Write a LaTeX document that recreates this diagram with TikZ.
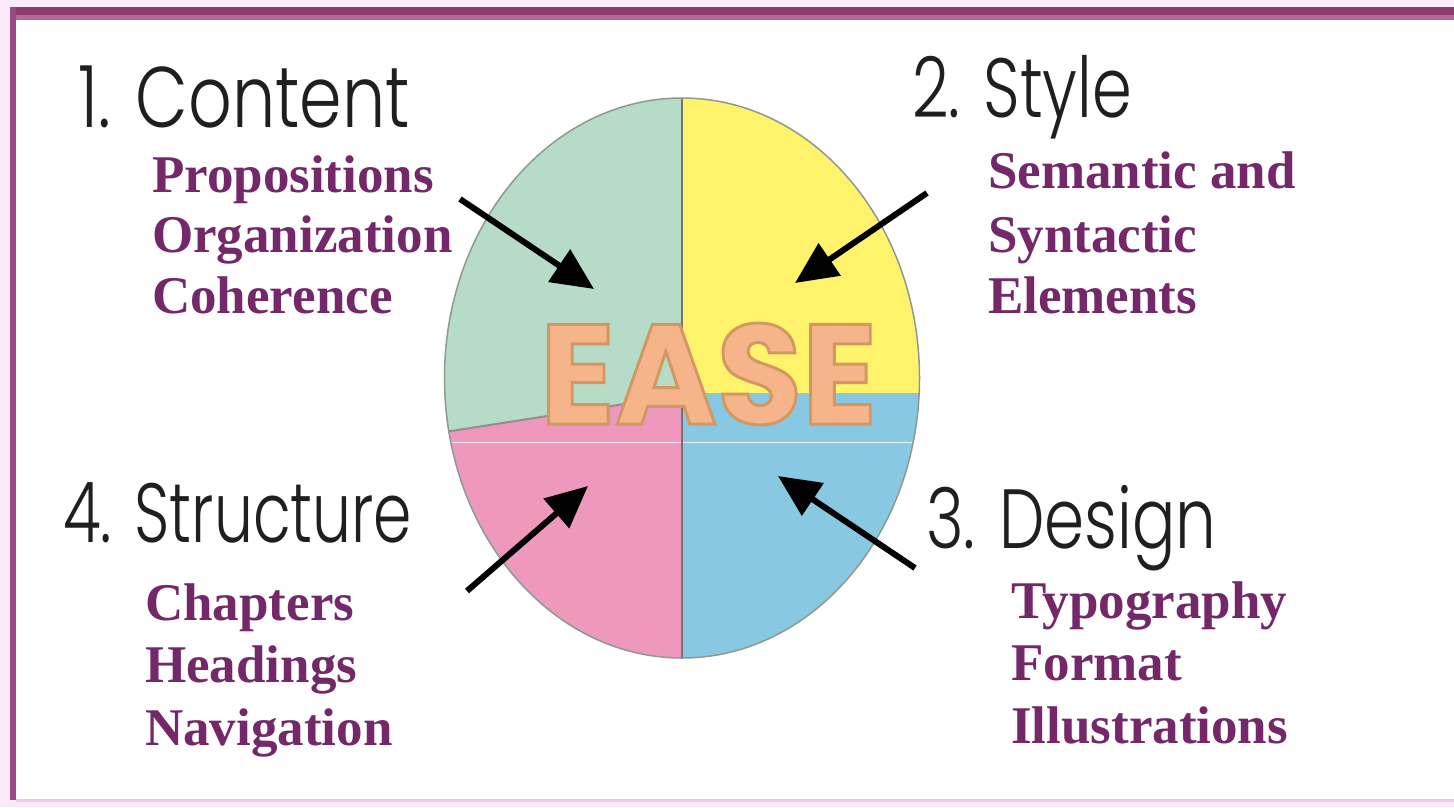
\documentclass[tikz,border=0pt]{standalone}
\usepackage{fontspec}
\usetikzlibrary{arrows.meta}
\newfontfamily\titlefont{Poppins Light}
\newfontfamily\subfont{Liberation Serif}
\newfontfamily\easefont{Poppins}
\definecolor{outerpink}{HTML}{FCEAF8}
\definecolor{framedark}{HTML}{8E3A6C}
\definecolor{framelight}{HTML}{B06A95}
\definecolor{frameleft}{HTML}{9C4A85}
\definecolor{bottompink}{HTML}{F6C6EE}
\definecolor{qgreen}{HTML}{B6DCC8}
\definecolor{qyellow}{HTML}{FFF36C}
\definecolor{qpink}{HTML}{EE98BE}
\definecolor{qblue}{HTML}{88C8E2}
\definecolor{rimgray}{HTML}{8C9A90}
\definecolor{divgray}{HTML}{7A7070}
\definecolor{subpurple}{HTML}{74286A}
\definecolor{easefill}{HTML}{F6B48A}
\newcommand{\easeword}{\special{pdf:literal direct 2 Tr 3 w 0.82 0.60 0.38 RG}\resizebox{337pt}{101pt}{\easefont\bfseries\fontsize{143}{143}\selectfont EASE}\special{pdf:literal direct 0 Tr}}
\tikzset{
  titletext/.style={anchor=base west, inner sep=0pt, text depth=0pt, text=black!88, font=\titlefont\fontsize{84}{84}\selectfont},
  subtext/.style={anchor=base west, inner sep=0pt, text=subpurple, font=\subfont\bfseries\fontsize{53}{53}\selectfont},
  easetext/.style={anchor=base, inner sep=0pt, text=easefill},
  arr/.style={line width=6pt, black, -{Triangle[length=42pt,width=38pt]}}
}
\begin{document}
\begin{tikzpicture}[x=1pt,y=-1pt]
\useasboundingbox (0,0) rectangle (1454,807);
% frame
\fill[outerpink] (0,0) rectangle (1454,807);
\fill[white] (16,20) rectangle (1454,799);
\fill[framedark] (10,7) rectangle (1454,15);
\fill[framelight] (10,15) rectangle (1454,20);
\fill[frameleft] (10,7) rectangle (16,800);
\fill[bottompink] (16,799) rectangle (1454,802);
% ellipse quadrants
\begin{scope}
  \clip (682,378) ellipse [x radius=237.5, y radius=280];
  \fill[qgreen] (682,0) -- (682,395) -- (400,439) -- (400,0) -- cycle;
  \fill[qyellow] (682,0) -- (1000,0) -- (1000,393) -- (682,393) -- cycle;
  \fill[qblue] (682,393) -- (1000,393) -- (1000,700) -- (682,700) -- cycle;
  \fill[qpink] (682,395) -- (400,439) -- (400,700) -- (682,700) -- cycle;
  \draw[white, line width=1pt, opacity=0.8] (400,442) -- (1000,442);
  \draw[divgray!80, line width=2pt] (682,395) -- (400,439);
\end{scope}
\draw[divgray, line width=2.5pt] (682,98) -- (682,658);
\draw[rimgray, line width=1.5pt] (682,378) ellipse [x radius=237.5, y radius=280];
% EASE
\node[easetext] (ease) at (708.5,424) {\easeword};
% titles
\node[titletext, font=\titlefont\fontsize{86}{86}\selectfont] (t1) at (78,127) {\scalebox{0.795}[1]{1. Content}};
\node[titletext] (t2) at (912,117) {\scalebox{0.76}[1]{2. Style}};
\node[titletext] (t3) at (926,548) {\scalebox{0.766}[1]{3. Design}};
\node[titletext] (t4) at (63,542) {\scalebox{0.733}[1]{4. Structure}};
% subtitles
\node[subtext] (s1a) at (152,192) {Propositions};
\node[subtext] (s1b) at (152,252) {Organization};
\node[subtext] (s1c) at (152,313) {Coherence};
\node[subtext] (s2a) at (988,188) {Semantic and};
\node[subtext] (s2b) at (988,252) {Syntactic};
\node[subtext] (s2c) at (988,313) {Elements};
\node[subtext] (s3a) at (1011,618) {Typography};
\node[subtext] (s3b) at (1011,680) {Format};
\node[subtext] (s3c) at (1011,743) {Illustrations};
\node[subtext] (s4a) at (145,620) {Chapters};
\node[subtext] (s4b) at (145,682) {Headings};
\node[subtext] (s4c) at (145,745) {Navigation};
% arrows
\coordinate (a1s) at (460,199);
\coordinate (a1e) at (594,289);
\coordinate (a2s) at (927,193);
\coordinate (a2e) at (795,283);
\coordinate (a3s) at (915,568);
\coordinate (a3e) at (778,476);
\coordinate (a4s) at (467,591);
\coordinate (a4e) at (588,486);
\draw[arr] (a1s) -- (a1e);
\draw[arr] (a2s) -- (a2e);
\draw[arr] (a3s) -- (a3e);
\draw[arr] (a4s) -- (a4e);
\end{tikzpicture}
\end{document}
